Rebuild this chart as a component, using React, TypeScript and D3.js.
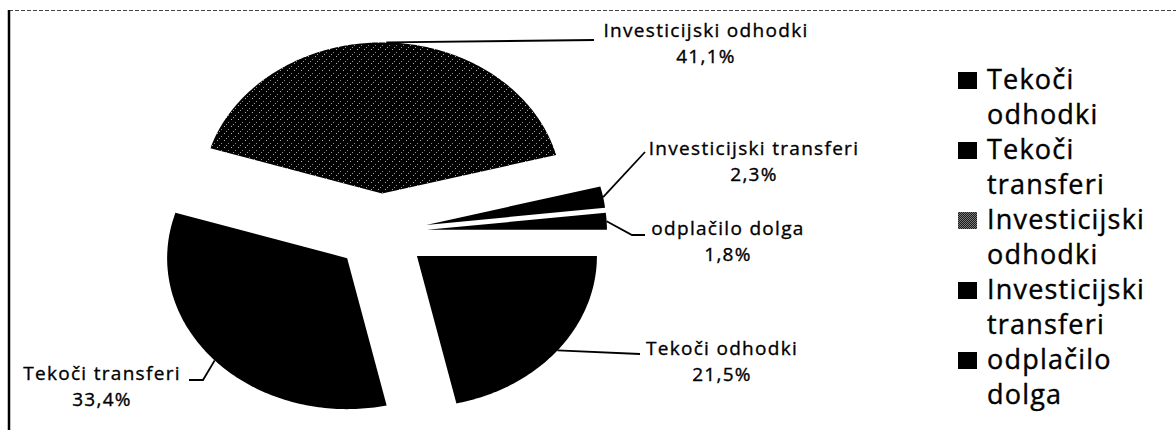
import React from "react";
import * as d3 from "d3";

const categories = ["Tekoči odhodki", "Tekoči transferi", "Investicijski odhodki", "Investicijski transferi", "odplačilo dolga"];
const values = [21.5, 33.4, 41.1, 2.3, 1.8];
const legendLines = [
  ["Tekoči", "odhodki"],
  ["Tekoči", "transferi"],
  ["Investicijski", "odhodki"],
  ["Investicijski", "transferi"],
  ["odplačilo", "dolga"],
];
const sliceFills = ["#000", "#000", "url(#ioPat)", "#000", "#000"];
const legendFills = ["#000", "#000", "url(#ioLegPat)", "#000", "#000"];

// layout of the data labels (Excel-style manual positions)
const labelLayout = [
  { x: 722, y: 355, leader: [[640, 354]] },
  { x: 102, y: 380, leader: [[203, 380], [189, 380]] },
  { x: 706, y: 37, leader: [[594, 40]] },
  { x: 754, y: 155, leader: [[645, 152]] },
  { x: 728, y: 235, leader: [[632, 235], [645, 235]] },
];

const W = 1176, H = 430;
const cx = 381, cy = 232, rx = 180, ry = 151, explode = 46;
const fmt = (v: number) => d3.format(".1f")(v).replace(".", ",") + "%";

export default function App() {
  const arcs = d3.pie<number>().sort(null).startAngle(Math.PI / 2).endAngle(Math.PI / 2 + 2 * Math.PI)(values);
  const line = d3.line();
  const font = "'Open Sans', 'DejaVu Sans', sans-serif";

  const slices = arcs.map((a, i) => {
    const mid = (a.startAngle + a.endAngle) / 2;
    const ax = cx + explode * Math.sin(mid);
    const ay = cy - explode * (ry / rx) * Math.cos(mid);
    const n = Math.max(4, Math.ceil(((a.endAngle - a.startAngle) * 180) / Math.PI));
    const pts: [number, number][] = [[ax, ay]];
    for (let k = 0; k <= n; k++) {
      const t = a.startAngle + ((a.endAngle - a.startAngle) * k) / n;
      pts.push([ax + rx * Math.sin(t), ay - ry * Math.cos(t)]);
    }
    const outer: [number, number] = [ax + rx * Math.sin(mid), ay - ry * Math.cos(mid)];
    return { d: line(pts) + "Z", outer, i };
  });

  const legendX = 958, legendTextX = 987, legendY0 = 89, legendStep = 35;

  return (
    <svg width={W} height={H} style={{ position: "absolute", left: 0, top: 0, background: "#fff" }}>
      <defs>
        <pattern id="ioPat" width="7" height="7" patternUnits="userSpaceOnUse">
          <rect width="7" height="7" fill="#000" />
          <rect x="0" y="0" width="1" height="1" fill="#b0b0b0" />
          <rect x="4" y="3" width="1" height="1" fill="#8a8a8a" />
          <rect x="2" y="5" width="1" height="1" fill="#9a9a9a" />
        </pattern>
        <pattern id="ioLegPat" width="2" height="2" patternUnits="userSpaceOnUse">
          <rect width="2" height="2" fill="#1a1a1a" />
          <rect x="0" y="0" width="1" height="1" fill="#7a7a7a" />
          <rect x="1" y="1" width="1" height="1" fill="#7a7a7a" />
        </pattern>
      </defs>

      {/* frame */}
      <line x1={9} y1={10.5} x2={W} y2={10.5} stroke="#444" strokeWidth={1.2} strokeDasharray="4,2" />
      <line x1={9} y1={10} x2={9} y2={H} stroke="#000" strokeWidth={2.5} />

      {/* slices */}
      {slices.map((s) => (
        <path key={categories[s.i]} d={s.d} fill={sliceFills[s.i]} />
      ))}

      {/* leaders and labels */}
      {slices.map((s) => {
        const L = labelLayout[s.i];
        const pts = [s.outer, ...L.leader] as [number, number][];
        return (
          <g key={"lab" + s.i}>
            <path d={line(pts) || ""} fill="none" stroke="#000" strokeWidth={1.8} />
            <text x={L.x} y={L.y} textAnchor="middle" fontFamily={font} fontSize={19} letterSpacing={1.3} fill="#000" stroke="#000" strokeWidth={0.35}>
              {categories[s.i]}
            </text>
            <text x={L.x} y={L.y + 26} textAnchor="middle" fontFamily={font} fontSize={19} letterSpacing={1.3} fill="#000" stroke="#000" strokeWidth={0.35}>
              {fmt(values[s.i])}
            </text>
          </g>
        );
      })}

      {/* legend */}
      {legendLines.map((ln, i) => {
        const by = legendY0 + i * 2 * legendStep;
        return (
          <g key={"leg" + i}>
            <rect x={legendX} y={by - 17} width={19} height={17} fill={legendFills[i]} />
            <text x={legendTextX} y={by} fontFamily={font} fontSize={27} letterSpacing={1.2} fill="#000" stroke="#000" strokeWidth={0.4}>
              {ln[0]}
            </text>
            <text x={legendTextX} y={by + legendStep} fontFamily={font} fontSize={27} letterSpacing={1.2} fill="#000" stroke="#000" strokeWidth={0.4}>
              {ln[1]}
            </text>
          </g>
        );
      })}
    </svg>
  );
}
